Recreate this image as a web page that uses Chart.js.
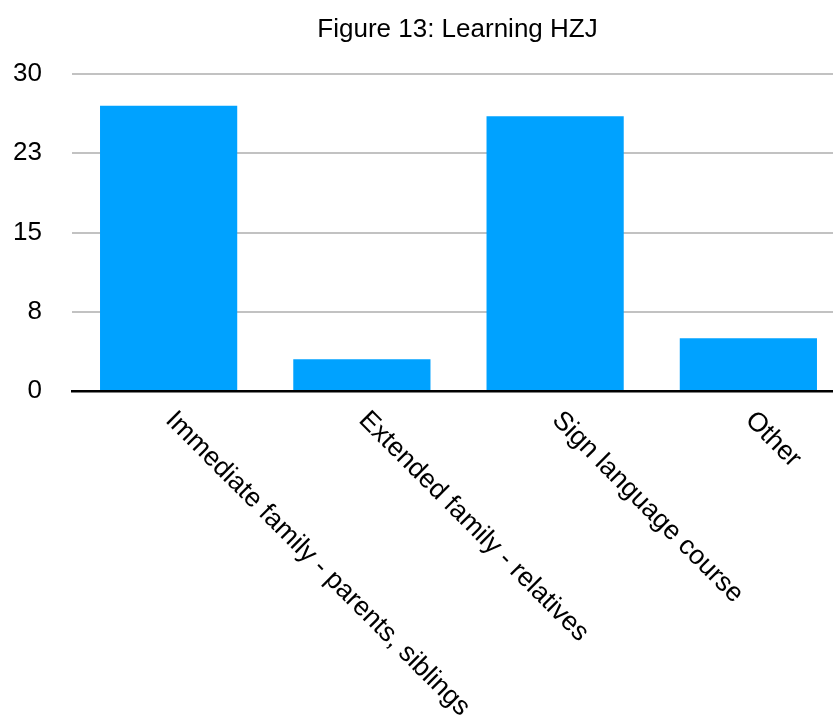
<!DOCTYPE html>
<html>
<head>
<meta charset="utf-8">
<title>Learning HZJ</title>
<script src="https://cdn.jsdelivr.net/npm/chart.js@4.4.1/dist/chart.umd.min.js"></script>
<style>
  html, body {
    margin: 0;
    padding: 0;
    background: #ffffff;
    overflow: hidden;
  }
  .wrap {
    width: 833px;
    height: 717px;
    overflow: hidden;
  }
</style>
</head>
<body>
<div class="wrap">
  <canvas id="chart" width="845" height="717"></canvas>
</div>
<script>
const chartTitle = "Figure 13: Learning HZJ";
const categories = [
  "Immediate family - parents, siblings",
  "Extended family - relatives",
  "Sign language course",
  "Other",
];
const responses = [27, 3, 26, 5];
const yTicks = [0, 7.5, 15, 22.5, 30];

const FONT = '"Liberation Sans", Arial, Helvetica, sans-serif';

// Title centred over the plot, category labels slanted down to the right
const labelPlugin = {
  id: "slantedLabels",
  afterDraw(chart) {
    const { ctx, chartArea } = chart;
    const xScale = chart.scales.x;
    ctx.save();
    ctx.fillStyle = "#000000";
    ctx.font = `26px ${FONT}`;
    ctx.textAlign = "center";
    ctx.textBaseline = "alphabetic";
    ctx.fillText(chartTitle, (chartArea.left + chartArea.right) / 2 - 1, 37);

    ctx.font = `26.7px ${FONT}`;
    ctx.textAlign = "left";
    ctx.textBaseline = "middle";
    categories.forEach((label, i) => {
      const x = xScale.getPixelForValue(i);
      ctx.save();
      ctx.translate(x + 1, xScale.top + 25);
      ctx.rotate(Math.PI / 4);
      ctx.fillText(label, 0, 0);
      ctx.restore();
    });
    ctx.restore();
  },
};

const ctx = document.getElementById("chart").getContext("2d");

new Chart(ctx, {
  type: "bar",
  data: {
    labels: categories,
    datasets: [
      {
        label: "Responses",
        data: responses,
        backgroundColor: "#00a2ff",
        borderWidth: 0,
        categoryPercentage: 1,
        barPercentage: 0.71,
      },
    ],
  },
  options: {
    responsive: false,
    devicePixelRatio: 1,
    animation: false,
    layout: {
      padding: { top: 74, left: 0, right: 0, bottom: 0 },
    },
    plugins: {
      legend: { display: false },
      title: { display: false },
      tooltip: { enabled: false },
    },
    scales: {
      x: {
        type: "category",
        ticks: { display: false },
        grid: { display: false },
        border: { display: true, color: "#000000", width: 2.5, z: 1 },
        afterFit(scale) {
          scale.height = 326;
        },
      },
      y: {
        min: 0,
        max: 30,
        afterBuildTicks(scale) {
          scale.ticks = yTicks.map((v) => ({ value: v }));
        },
        ticks: {
          padding: 30,
          color: "#000000",
          font: { family: FONT, size: 26 },
          callback: (value) => Math.round(value),
        },
        grid: {
          color: "#c2c2c2",
          lineWidth: 2,
          drawTicks: false,
        },
        border: { display: false },
        afterFit(scale) {
          scale.width = 72;
        },
      },
    },
  },
  plugins: [labelPlugin],
});
</script>
</body>
</html>
